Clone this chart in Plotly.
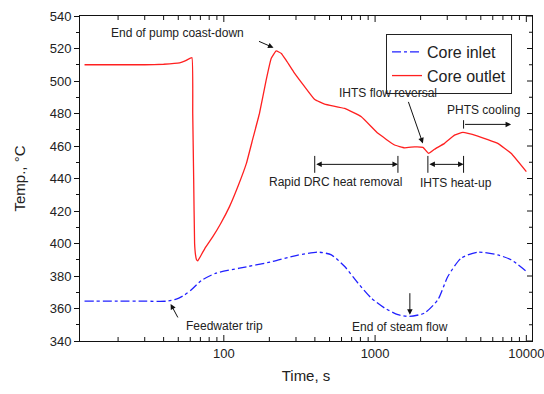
import math
import plotly.graph_objects as go

# ---- data ----
outlet_t = [12, 20, 30, 40, 51, 56, 61.5, 62.3, 63.2, 64.1, 65, 66, 67.3, 70, 75, 84.6, 95, 109, 125, 141,
            156, 172, 190.5, 205.6, 222, 240, 258, 290, 343, 399, 464, 630, 811, 1045, 1346, 1567, 1824,
            2072, 2257, 2472, 2878, 3350, 3804, 4776, 6471, 7925, 10000]
outlet_T = [510, 510, 510, 510.3, 511.1, 512.5, 514.4, 480, 440, 400, 393, 390, 389.3, 392, 397, 404.2,
            412, 422.7, 436, 449.3, 465, 480, 500.5, 513.8, 518.5, 517, 512.8, 505.5, 496.4, 488.6, 485.8,
            483.1, 478, 467.8, 460.6, 458.9, 459.5, 459.2, 455.5, 458, 461.6, 466.7, 468.4, 466.1, 461.6,
            455.5, 444.2]

inlet_t = [12, 20, 30, 41.7, 48.5, 55, 61, 71, 89, 127, 210, 300, 420, 514, 630, 771, 944, 1156, 1416,
           1690, 2124, 2602, 3027, 3706, 4776, 6471, 7925, 10000]
inlet_T = [364.5, 364.5, 364.5, 364.5, 365.8, 368.3, 371.5, 377.2, 381.8, 384.8, 388.9, 392.6, 394.7,
           393, 385.8, 375.6, 366.4, 360.3, 356.2, 355.1, 357.2, 365.4, 379.7, 391, 394.7, 393, 390, 382.8]

x_label_vals = [100, 1000, 10000]
x_label_text = ["100", "1000", "10000"]
x_minor_vals = [m * 10 ** d for d in (1, 2, 3) for m in range(2, 10)]
y_major_vals = list(range(340, 541, 20))
y_minor_vals = list(range(350, 540, 20))
x_range = [11.2, 10900]
y_range = [340, 540]

FONT = "Liberation Sans, Arial, sans-serif"
L = math.log10
INK = "#111"

fig = go.Figure()
fig.add_trace(go.Scatter(x=inlet_t, y=inlet_T, mode="lines", name="Core inlet",
                         line=dict(color="#2020ff", width=1.3, dash="dashdot", shape="spline", smoothing=0.6)))
fig.add_trace(go.Scatter(x=outlet_t, y=outlet_T, mode="lines", name="Core outlet",
                         line=dict(color="#ff2020", width=1.3, shape="spline", smoothing=0.3)))

ann_font = dict(family=FONT, size=12, color="#222")

def text(t, x, y):
    fig.add_annotation(x=L(x), y=y, xref="x", yref="y", text=t, showarrow=False, font=ann_font)

def arrow(x, y, ax, ay):
    fig.add_annotation(x=L(x), y=y, xref="x", yref="y", text="", showarrow=True, ax=ax, ay=ay,
                       arrowhead=2, arrowsize=1.1, arrowwidth=1, arrowcolor=INK)

def bracket(x0, x1, y, h, side="end+start", bars=(True, True)):
    fig.add_annotation(x=L(x1), y=y, ax=L(x0), ay=y, xref="x", yref="y", axref="x", ayref="y",
                       text="", showarrow=True, arrowhead=2, arrowsize=1.1, arrowwidth=1,
                       arrowcolor=INK, arrowside=side)
    for xv, b in zip((x0, x1), bars):
        if b:
            fig.add_shape(type="line", x0=xv, x1=xv, y0=y - h, y1=y + h, xref="x", yref="y",
                          line=dict(color=INK, width=1))

text("End of pump coast-down", 49.4, 529.4)
arrow(213, 520.5, -16, -7)
text("IHTS flow reversal", 1222, 492.5)
arrow(2070, 461.6, -15, -43)
text("PHTS cooling", 5177, 482.1)
bracket(3846, 7925, 473.3, 2.6, side="end", bars=(True, False))
text("Rapid DRC heat removal", 546, 437.9)
bracket(399, 1416, 448.7, 5.2)
text("IHTS heat-up", 3452, 437.2)
bracket(2234, 3846, 448.7, 5.2)
text("End of steam flow", 1472, 348.4)
arrow(1698, 356.2, 0, -23)
text("Feedwater trip", 101, 349.4)
arrow(44.5, 362.8, 8, 15)

# inward-pointing frame ticks (bottom, top, right), sized in pixels
def xtick(v, length):
    for anchor, sign in ((0, 1), (1, -1)):
        fig.add_shape(type="line", xref="x", x0=v, x1=v, yref="paper", ysizemode="pixel",
                      yanchor=anchor, y0=0, y1=sign * length, line=dict(color=INK, width=1))

def ytick_right(v, length):
    fig.add_shape(type="line", yref="y", y0=v, y1=v, xref="paper", xsizemode="pixel",
                  xanchor=1, x0=0, x1=-length, line=dict(color=INK, width=1))

for v in x_label_vals:
    xtick(v, 6)
for v in x_minor_vals:
    xtick(v, 4)
for v in y_major_vals:
    ytick_right(v, 5)
for v in y_minor_vals:
    ytick_right(v, 3)

tickfont = dict(family=FONT, size=13, color="#222")
fig.update_layout(
    width=544, height=394,
    margin=dict(l=80, r=12, t=16, b=53),
    paper_bgcolor="white", plot_bgcolor="white",
    showlegend=True,
    legend=dict(x=0.677, y=0.945, xanchor="left", yanchor="top", bgcolor="white",
                bordercolor="#222", borderwidth=1, font=dict(family=FONT, size=16, color="#222"),
                tracegroupgap=0),
    xaxis=dict(type="log", range=[L(x_range[0]), L(x_range[1])], tickmode="array",
               tickvals=x_label_vals, ticktext=x_label_text, ticks="", showline=True, mirror=True,
               linecolor=INK, linewidth=1, showgrid=False, zeroline=False, automargin=False,
               tickfont=tickfont, ticklabeloverflow="allow",
               title=dict(text="Time, s", font=dict(family=FONT, size=15, color="#222"), standoff=10)),
    yaxis=dict(range=y_range, tickmode="array", tickvals=y_major_vals, ticks="outside", ticklen=5,
               tickcolor=INK, showline=True, mirror=True, linecolor=INK, linewidth=1, showgrid=False,
               zeroline=False, automargin=False, tickfont=tickfont,
               minor=dict(ticks="outside", ticklen=3, dtick=10, tickcolor=INK, showgrid=False),
               title=dict(text="Temp., °C", font=dict(family=FONT, size=15, color="#222"), standoff=20)),
)

fig.write_html("out.html")
